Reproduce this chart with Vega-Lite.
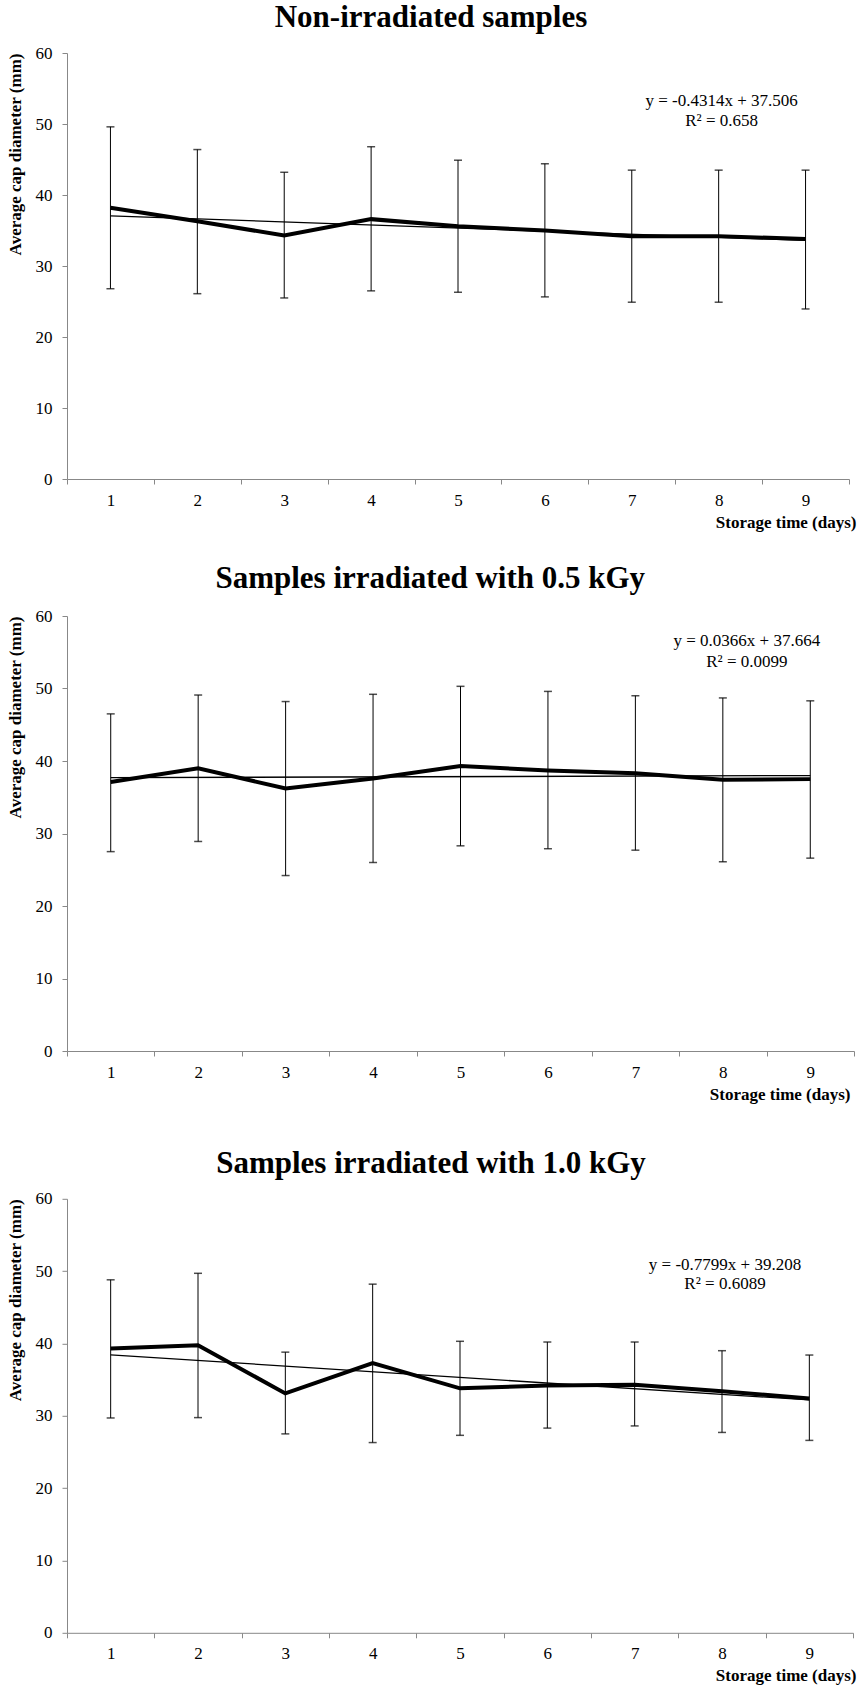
{
  "$schema": "https://vega.github.io/schema/vega-lite/v6.json",
  "background": "white",
  "padding": {"left": 5, "top": 2, "right": 2, "bottom": 2},
  "spacing": 33,
  "config": {
    "view": {"stroke": null},
    "font": "Liberation Serif",
    "title": {"font": "Liberation Serif", "fontSize": 31, "fontWeight": "bold", "color": "#000", "anchor": "middle", "frame": "bounds"},
    "axis": {"domainColor": "#888", "tickColor": "#888", "labelFont": "Liberation Serif", "labelFontSize": 17, "labelColor": "#000", "titleFont": "Liberation Serif", "titleFontWeight": "bold", "titleFontSize": 17, "titleColor": "#000", "grid": false, "tickSize": 5}
  },
  "datasets": {
    "m1": [
      {"day": 1, "mean": 38.2, "low": 26.8, "high": 49.6},
      {"day": 2, "mean": 36.3, "low": 26.1, "high": 46.4},
      {"day": 3, "mean": 34.3, "low": 25.5, "high": 43.2},
      {"day": 4, "mean": 36.6, "low": 26.5, "high": 46.8},
      {"day": 5, "mean": 35.6, "low": 26.3, "high": 44.9},
      {"day": 6, "mean": 35.0, "low": 25.65, "high": 44.4},
      {"day": 7, "mean": 34.2, "low": 24.9, "high": 43.5},
      {"day": 8, "mean": 34.2, "low": 24.9, "high": 43.5},
      {"day": 9, "mean": 33.8, "low": 23.95, "high": 43.5}
    ],
    "t1": [{"day": 1, "val": 37.07}, {"day": 9, "val": 33.62}],
    "e1": [{"day": 8, "val": 53.3, "label": "y = -0.4314x + 37.506"}, {"day": 8, "val": 50.4, "label": "R² = 0.658"}],
    "m2": [
      {"day": 1, "mean": 37.1, "low": 27.5, "high": 46.5},
      {"day": 2, "mean": 39.0, "low": 28.9, "high": 49.1},
      {"day": 3, "mean": 36.2, "low": 24.2, "high": 48.2},
      {"day": 4, "mean": 37.6, "low": 26.0, "high": 49.2},
      {"day": 5, "mean": 39.3, "low": 28.3, "high": 50.3},
      {"day": 6, "mean": 38.7, "low": 27.9, "high": 49.6},
      {"day": 7, "mean": 38.3, "low": 27.7, "high": 49.0},
      {"day": 8, "mean": 37.4, "low": 26.1, "high": 48.7},
      {"day": 9, "mean": 37.5, "low": 26.6, "high": 48.3}
    ],
    "t2": [{"day": 1, "val": 37.70}, {"day": 9, "val": 37.99}],
    "e2": [{"day": 8, "val": 56.6, "label": "y = 0.0366x + 37.664"}, {"day": 8, "val": 53.7, "label": "R² = 0.0099"}],
    "m3": [
      {"day": 1, "mean": 39.3, "low": 29.7, "high": 48.8},
      {"day": 2, "mean": 39.75, "low": 29.75, "high": 49.7},
      {"day": 3, "mean": 33.1, "low": 27.5, "high": 38.8},
      {"day": 4, "mean": 37.3, "low": 26.3, "high": 48.2},
      {"day": 5, "mean": 33.8, "low": 27.3, "high": 40.3},
      {"day": 6, "mean": 34.2, "low": 28.3, "high": 40.2},
      {"day": 7, "mean": 34.3, "low": 28.6, "high": 40.2},
      {"day": 8, "mean": 33.4, "low": 27.7, "high": 39.0},
      {"day": 9, "mean": 32.4, "low": 26.6, "high": 38.4}
    ],
    "t3": [{"day": 1, "val": 38.43}, {"day": 9, "val": 32.19}],
    "e3": [{"day": 8, "val": 50.9, "label": "y = -0.7799x + 39.208"}, {"day": 8, "val": 48.2, "label": "R² = 0.6089"}]
  },
  "vconcat": [
    {
      "width": 782, "height": 426,
      "title": {"text": "Non-irradiated samples", "offset": 10},
      "encoding": {
        "x": {"field": "day", "type": "ordinal", "bandPosition": 0.5, "scale": {"type": "band", "domain": [1,2,3,4,5,6,7,8,9], "paddingInner": 0, "paddingOuter": 0}, "axis": {"title": "Storage time (days)", "labelAngle": 0, "tickBand": "extent", "labelPadding": 8, "titleAlign": "right", "titleX": 789, "titlePadding": 6}}
      },
      "layer": [
        {"data": {"name": "m1"}, "mark": {"type": "rule", "color": "#000", "strokeWidth": 1}, "encoding": {"y": {"field": "low", "type": "quantitative", "scale": {"domain": [0, 60]}, "axis": {"title": "Average cap diameter (mm)", "values": [0,10,20,30,40,50,60], "labelPadding": 10, "titleAnchor": "end", "titlePadding": 11}}, "y2": {"field": "high"}}},
        {"data": {"name": "m1"}, "mark": {"type": "tick", "orient": "horizontal", "color": "#000", "size": 8, "thickness": 1.5}, "encoding": {"y": {"field": "low", "type": "quantitative"}}},
        {"data": {"name": "m1"}, "mark": {"type": "tick", "orient": "horizontal", "color": "#000", "size": 8, "thickness": 1.5}, "encoding": {"y": {"field": "high", "type": "quantitative"}}},
        {"data": {"name": "t1"}, "mark": {"type": "line", "color": "#000", "strokeWidth": 1.3}, "encoding": {"y": {"field": "val", "type": "quantitative"}}},
        {"data": {"name": "m1"}, "mark": {"type": "line", "color": "#000", "strokeWidth": 4}, "encoding": {"y": {"field": "mean", "type": "quantitative"}}},
        {"data": {"name": "e1"}, "mark": {"type": "text", "font": "Liberation Serif", "fontSize": 17, "color": "#000", "dx": 3}, "encoding": {"y": {"field": "val", "type": "quantitative"}, "text": {"field": "label"}}}
      ]
    },
    {
      "spacing": 44.8,
      "vconcat": [
        {
          "width": 787, "height": 435,
          "title": {"text": "Samples irradiated with 0.5 kGy", "offset": 11.8},
          "encoding": {
            "x": {"field": "day", "type": "ordinal", "bandPosition": 0.5, "scale": {"type": "band", "domain": [1,2,3,4,5,6,7,8,9], "paddingInner": 0, "paddingOuter": 0}, "axis": {"title": "Storage time (days)", "labelAngle": 0, "tickBand": "extent", "labelPadding": 8, "titleAlign": "right", "titleX": 783, "titlePadding": 6}}
          },
          "layer": [
            {"data": {"name": "m2"}, "mark": {"type": "rule", "color": "#000", "strokeWidth": 1}, "encoding": {"y": {"field": "low", "type": "quantitative", "scale": {"domain": [0, 60]}, "axis": {"title": "Average cap diameter (mm)", "values": [0,10,20,30,40,50,60], "labelPadding": 10, "titleAnchor": "end", "titlePadding": 11}}, "y2": {"field": "high"}}},
            {"data": {"name": "m2"}, "mark": {"type": "tick", "orient": "horizontal", "color": "#000", "size": 8, "thickness": 1.5}, "encoding": {"y": {"field": "low", "type": "quantitative"}}},
            {"data": {"name": "m2"}, "mark": {"type": "tick", "orient": "horizontal", "color": "#000", "size": 8, "thickness": 1.5}, "encoding": {"y": {"field": "high", "type": "quantitative"}}},
            {"data": {"name": "t2"}, "mark": {"type": "line", "color": "#000", "strokeWidth": 1.3}, "encoding": {"y": {"field": "val", "type": "quantitative"}}},
            {"data": {"name": "m2"}, "mark": {"type": "line", "color": "#000", "strokeWidth": 4}, "encoding": {"y": {"field": "mean", "type": "quantitative"}}},
            {"data": {"name": "e2"}, "mark": {"type": "text", "font": "Liberation Serif", "fontSize": 17, "color": "#000", "dx": 24}, "encoding": {"y": {"field": "val", "type": "quantitative"}, "text": {"field": "label"}}}
          ]
        },
        {
          "width": 786, "height": 434,
          "title": {"text": "Samples irradiated with 1.0 kGy", "offset": 10.2},
          "encoding": {
            "x": {"field": "day", "type": "ordinal", "bandPosition": 0.5, "scale": {"type": "band", "domain": [1,2,3,4,5,6,7,8,9], "paddingInner": 0, "paddingOuter": 0}, "axis": {"title": "Storage time (days)", "labelAngle": 0, "tickBand": "extent", "labelPadding": 8, "titleAlign": "right", "titleX": 789, "titlePadding": 6}}
          },
          "layer": [
            {"data": {"name": "m3"}, "mark": {"type": "rule", "color": "#000", "strokeWidth": 1}, "encoding": {"y": {"field": "low", "type": "quantitative", "scale": {"domain": [0, 60]}, "axis": {"title": "Average cap diameter (mm)", "values": [0,10,20,30,40,50,60], "labelPadding": 10, "titleAnchor": "end", "titlePadding": 11}}, "y2": {"field": "high"}}},
            {"data": {"name": "m3"}, "mark": {"type": "tick", "orient": "horizontal", "color": "#000", "size": 8, "thickness": 1.5}, "encoding": {"y": {"field": "low", "type": "quantitative"}}},
            {"data": {"name": "m3"}, "mark": {"type": "tick", "orient": "horizontal", "color": "#000", "size": 8, "thickness": 1.5}, "encoding": {"y": {"field": "high", "type": "quantitative"}}},
            {"data": {"name": "t3"}, "mark": {"type": "line", "color": "#000", "strokeWidth": 1.3}, "encoding": {"y": {"field": "val", "type": "quantitative"}}},
            {"data": {"name": "m3"}, "mark": {"type": "line", "color": "#000", "strokeWidth": 4}, "encoding": {"y": {"field": "mean", "type": "quantitative"}}},
            {"data": {"name": "e3"}, "mark": {"type": "text", "font": "Liberation Serif", "fontSize": 17, "color": "#000", "dx": 3}, "encoding": {"y": {"field": "val", "type": "quantitative"}, "text": {"field": "label"}}}
          ]
        }
      ]
    }
  ]
}
